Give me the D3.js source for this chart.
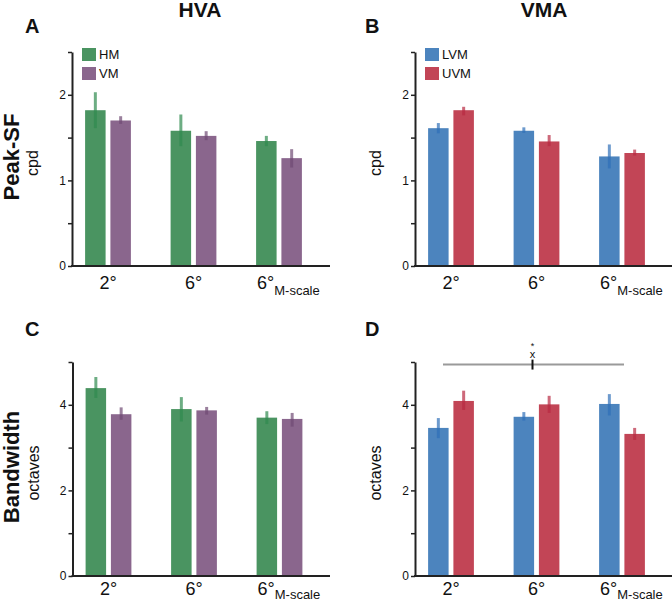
<!DOCTYPE html>
<html>
<head>
<meta charset="utf-8">
<script src="https://cdn.jsdelivr.net/npm/d3@7"></script>
<style>
  body { margin: 0; background: #fff; }
  text { font-family: "Liberation Sans", Arial, sans-serif; fill: #111; }
</style>
</head>
<body>
<svg id="fig" width="672" height="601"></svg>
<script>
// categories
const groups = ["2°", "6°", "6°M"];
const hvaSeries = ["HM", "VM"];
const vmaSeries = ["LVM", "UVM"];

// Peak-SF (cpd)
const peakHM = [1.82, 1.58, 1.46];
const peakHMErr = [[1.61, 2.03], [1.40, 1.77], [1.40, 1.52]];
const peakVM = [1.70, 1.52, 1.26];
const peakVMErr = [[1.66, 1.75], [1.47, 1.575], [1.15, 1.365]];
const peakLVM = [1.61, 1.58, 1.28];
const peakLVMErr = [[1.55, 1.67], [1.555, 1.62], [1.14, 1.42]];
const peakUVM = [1.82, 1.455, 1.32];
const peakUVMErr = [[1.76, 1.86], [1.40, 1.53], [1.29, 1.36]];

// Bandwidth (octaves)
const bwHM = [4.39, 3.90, 3.70];
const bwHMErr = [[4.16, 4.65], [3.61, 4.18], [3.55, 3.85]];
const bwVM = [3.78, 3.87, 3.67];
const bwVMErr = [[3.65, 3.94], [3.77, 3.95], [3.49, 3.81]];
const bwLVM = [3.46, 3.72, 4.02];
const bwLVMErr = [[3.22, 3.69], [3.63, 3.83], [3.75, 4.25]];
const bwUVM = [4.09, 4.01, 3.32];
const bwUVMErr = [[3.88, 4.33], [3.81, 4.21], [3.18, 3.46]];

// ticks
const peakTicks = [0, 0.5, 1, 1.5, 2, 2.5];
const peakLabels = [0, 1, 2];
const bwTicks = [0, 1, 2, 3, 4, 5];
const bwLabels = [0, 2, 4];

const colors = { HM: "#4a9461", VM: "#8a668d", LVM: "#4c84be", UVM: "#c24556" };
const errColors = { HM: "#2f8a4f", VM: "#6f4a74", LVM: "#2f6fb8", UVM: "#b82a42" };

const svg = d3.select("#fig");

const drawPanel = (cfg) => {
  const y = d3.scaleLinear().domain([0, cfg.yMax]).range([cfg.y0, cfg.yTop]);
  const x = d3.scalePoint().domain(groups).range([cfg.axisX + 36, cfg.axisX + 207]);
  const xs = d3.scaleBand().domain(cfg.series).range([-22.9, 22.9]).paddingInner(0.19);

  const root = svg.append("g");

  const rows = [];
  cfg.series.forEach((s, si) => {
    groups.forEach((g, gi) => {
      rows.push({ s, g, v: cfg.values[si][gi], e: cfg.errors[si][gi] });
    });
  });

  // bars
  root.append("g")
    .selectAll("rect")
    .data(rows)
    .enter()
    .append("rect")
    .attr("x", (d) => x(d.g) + xs(d.s))
    .attr("width", xs.bandwidth())
    .attr("y", (d) => y(d.v))
    .attr("height", (d) => y(0) - y(d.v))
    .attr("fill", (d) => colors[d.s]);

  // error bars
  root.append("g")
    .selectAll("line")
    .data(rows)
    .enter()
    .append("line")
    .attr("x1", (d) => x(d.g) + xs(d.s) + xs.bandwidth() / 2)
    .attr("x2", (d) => x(d.g) + xs(d.s) + xs.bandwidth() / 2)
    .attr("y1", (d) => y(d.e[0]))
    .attr("y2", (d) => y(d.e[1]))
    .attr("stroke", (d) => errColors[d.s])
    .attr("stroke-opacity", 0.7)
    .attr("stroke-width", 3);

  // y axis
  const yAxis = root.append("g")
    .attr("transform", `translate(${cfg.axisX},0)`)
    .call(d3.axisLeft(y).tickValues(cfg.ticks).tickSize(4).tickSizeOuter(0)
      .tickFormat((d) => (cfg.labels.includes(d) ? d : "")));
  yAxis.select(".domain").attr("stroke", "#222").attr("stroke-width", 2);
  yAxis.selectAll(".tick line").attr("stroke", "#222").attr("stroke-width", 1.5);
  yAxis.selectAll(".tick text")
    .attr("x", -6)
    .style("font-size", "12px")
    .style("font-family", "Liberation Sans, Arial, sans-serif");

  // x axis line
  root.append("line")
    .attr("x1", cfg.axisX - 1)
    .attr("x2", cfg.xEnd)
    .attr("y1", y(0))
    .attr("y2", y(0))
    .attr("stroke", "#222")
    .attr("stroke-width", 2);

  // x labels
  const xl = root.append("g")
    .selectAll("text")
    .data(groups)
    .enter()
    .append("text")
    .attr("x", (d) => x(d) + (d === "6°M" ? -22 : 0))
    .attr("y", y(0) + cfg.labelGap)
    .attr("text-anchor", (d) => (d === "6°M" ? "start" : "middle"))
    .style("font-size", "18px");
  xl.append("tspan").text((d) => (d === "6°M" ? "6°" : d));
  xl.filter((d) => d === "6°M")
    .append("tspan")
    .attr("dy", cfg.subShift)
    .style("font-size", "13px")
    .text("M-scale");

  // y label
  root.append("text")
    .attr("transform", `translate(${cfg.axisX - 34},${(cfg.y0 + cfg.yTop) / 2 + 4}) rotate(-90)`)
    .attr("text-anchor", "middle")
    .style("font-size", "16px")
    .text(cfg.unit);

  // legend
  if (cfg.legend) {
    const lg = root.append("g")
      .selectAll("g")
      .data(cfg.series)
      .enter()
      .append("g")
      .attr("transform", (d, i) => `translate(${cfg.axisX + 10},${cfg.yTop - 4 + i * 19})`);
    lg.append("rect").attr("width", 14).attr("height", 13).attr("fill", (d) => colors[d]);
    lg.append("text").attr("x", 17).attr("y", 11).style("font-size", "13px").text((d) => d);
  }

  // panel letter
  root.append("text")
    .attr("x", cfg.letterX)
    .attr("y", cfg.letterY)
    .style("font-size", "20px")
    .style("font-weight", "bold")
    .text(cfg.letter);

  return { x, y };
};

drawPanel({
  letter: "A", letterX: 25, letterY: 33, axisX: 72, xEnd: 330, labelGap: 23, subShift: 6,
  y0: 266, yTop: 52, yMax: 2.5, ticks: peakTicks, labels: peakLabels, unit: "cpd",
  series: hvaSeries, values: [peakHM, peakVM], errors: [peakHMErr, peakVMErr], legend: true,
});
drawPanel({
  letter: "B", letterX: 365, letterY: 33, axisX: 415, xEnd: 672, labelGap: 23, subShift: 6,
  y0: 266, yTop: 52, yMax: 2.5, ticks: peakTicks, labels: peakLabels, unit: "cpd",
  series: vmaSeries, values: [peakLVM, peakUVM], errors: [peakLVMErr, peakUVMErr], legend: true,
});
drawPanel({
  letter: "C", letterX: 25, letterY: 336, axisX: 72.5, xEnd: 330, labelGap: 19, subShift: 4,
  y0: 576, yTop: 362, yMax: 5, ticks: bwTicks, labels: bwLabels, unit: "octaves",
  series: hvaSeries, values: [bwHM, bwVM], errors: [bwHMErr, bwVMErr], legend: false,
});
const pd = drawPanel({
  letter: "D", letterX: 365, letterY: 336, axisX: 415, xEnd: 672, labelGap: 19, subShift: 4,
  y0: 576, yTop: 362, yMax: 5, ticks: bwTicks, labels: bwLabels, unit: "octaves",
  series: vmaSeries, values: [bwLVM, bwUVM], errors: [bwLVMErr, bwUVMErr], legend: false,
});

// significance bracket in D
const sigLevel = 4.94;
svg.append("line")
  .attr("x1", pd.x("2°") - 8)
  .attr("x2", pd.x("6°M") + 2)
  .attr("y1", pd.y(sigLevel))
  .attr("y2", pd.y(sigLevel))
  .attr("stroke", "#9a9a9a")
  .attr("stroke-width", 2);
svg.append("line")
  .attr("x1", pd.x("6°") - 4)
  .attr("x2", pd.x("6°") - 4)
  .attr("y1", pd.y(sigLevel) - 5)
  .attr("y2", pd.y(sigLevel) + 5)
  .attr("stroke", "#111")
  .attr("stroke-width", 2);
svg.append("text")
  .attr("x", pd.x("6°") - 4)
  .attr("y", pd.y(sigLevel) - 7)
  .attr("text-anchor", "middle")
  .style("font-size", "11px")
  .text("x");
svg.append("text")
  .attr("x", pd.x("6°") - 4)
  .attr("y", pd.y(sigLevel) - 16)
  .attr("text-anchor", "middle")
  .style("font-size", "9px")
  .text("*");

// column titles
svg.append("text").attr("x", 200).attr("y", 17).attr("text-anchor", "middle")
  .style("font-size", "21px").style("font-weight", "bold").text("HVA");
svg.append("text").attr("x", 544).attr("y", 17).attr("text-anchor", "middle")
  .style("font-size", "21px").style("font-weight", "bold").text("VMA");

// row titles
svg.append("text").attr("transform", "translate(19,157) rotate(-90)").attr("text-anchor", "middle")
  .style("font-size", "22px").style("font-weight", "bold").text("Peak-SF");
svg.append("text").attr("transform", "translate(19,467) rotate(-90)").attr("text-anchor", "middle")
  .style("font-size", "22px").style("font-weight", "bold").text("Bandwidth");
</script>
</body>
</html>
